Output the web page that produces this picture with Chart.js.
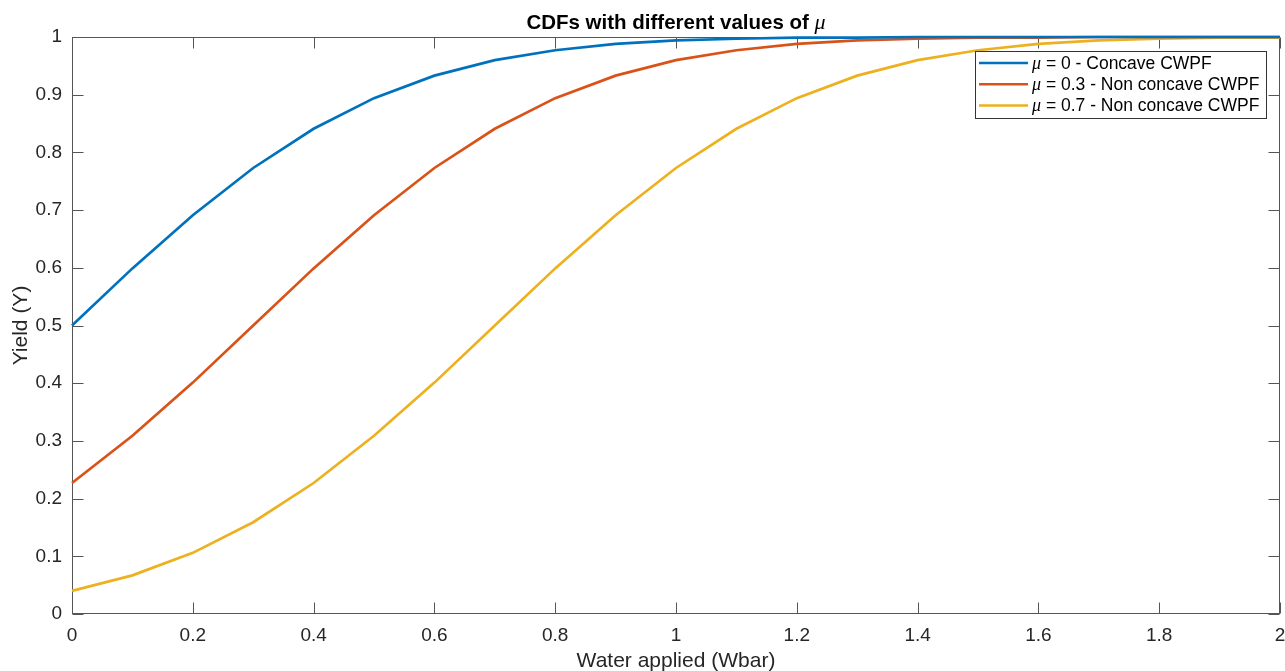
<!DOCTYPE html>
<html>
<head>
<meta charset="utf-8">
<title>CDFs with different values of mu</title>
<script src="https://cdn.jsdelivr.net/npm/chart.js"></script>
<style>
  body { margin: 0; background: #fff; }
  canvas { display: block; }
</style>
</head>
<body>
<canvas id="chart" width="1285" height="671"></canvas>
<script>
  // values
  const waterApplied = [0, 0.1, 0.2, 0.3, 0.4, 0.5, 0.6, 0.7, 0.8, 0.9, 1, 1.1, 1.2, 1.3, 1.4, 1.5, 1.6, 1.7, 1.8, 1.9, 2];
  const yieldMu0 = [0.5, 0.599, 0.691, 0.773, 0.841, 0.894, 0.933, 0.96, 0.977, 0.988, 0.994, 0.997, 0.999, 0.999, 1, 1, 1, 1, 1, 1, 1];
  const yieldMu03 = [0.227, 0.309, 0.401, 0.5, 0.599, 0.691, 0.773, 0.841, 0.894, 0.933, 0.96, 0.977, 0.988, 0.994, 0.997, 0.999, 0.999, 1, 1, 1, 1];
  const yieldMu07 = [0.04, 0.067, 0.106, 0.159, 0.227, 0.309, 0.401, 0.5, 0.599, 0.691, 0.773, 0.841, 0.894, 0.933, 0.96, 0.977, 0.988, 0.994, 0.997, 0.999, 0.999];

  const seriesNames = [" = 0 - Concave CWPF", " = 0.3 - Non concave CWPF", " = 0.7 - Non concave CWPF"];
  const seriesColors = ["#0072BD", "#D95319", "#EDB120"];

  const xTicks = [0, 0.2, 0.4, 0.6, 0.8, 1, 1.2, 1.4, 1.6, 1.8, 2];
  const xTickLabels = ["0", "0.2", "0.4", "0.6", "0.8", "1", "1.2", "1.4", "1.6", "1.8", "2"];
  const yTicks = [0, 0.1, 0.2, 0.3, 0.4, 0.5, 0.6, 0.7, 0.8, 0.9, 1];
  const yTickLabels = ["0", "0.1", "0.2", "0.3", "0.4", "0.5", "0.6", "0.7", "0.8", "0.9", "1"];

  const SANS = '"Liberation Sans", Arial, Helvetica, sans-serif';
  const MU_FONT = '"Liberation Serif", "DejaVu Serif", serif';
  const TEXT = "#262626";
  const AXIS = "#555";

  const toPoints = ys => ys.map((y, i) => ({ x: waterApplied[i], y: y }));

  // box, inward ticks, title, axis labels and legend, MATLAB style
  const matlabAxes = {
    id: "matlabAxes",
    beforeDatasetsDraw(chart) {
      const { ctx, chartArea: a, scales } = chart;
      const L = Math.round(a.left) + 0.5, R = Math.round(a.right) - 0.5;
      const T = Math.round(a.top) + 0.5, B = Math.round(a.bottom) - 0.5;
      const tl = 11;
      ctx.save();
      ctx.strokeStyle = AXIS;
      ctx.lineWidth = 1;
      ctx.strokeRect(L, T, R - L, B - T);
      ctx.beginPath();
      xTicks.forEach(v => {
        const px = Math.round(scales.x.getPixelForValue(v)) + 0.5;
        ctx.moveTo(px, B); ctx.lineTo(px, B - tl);
        ctx.moveTo(px, T); ctx.lineTo(px, T + tl);
      });
      yTicks.forEach(v => {
        const py = Math.round(scales.y.getPixelForValue(v)) + 0.5;
        ctx.moveTo(L, py); ctx.lineTo(L + tl, py);
        ctx.moveTo(R, py); ctx.lineTo(R - tl, py);
      });
      ctx.stroke();
      ctx.restore();
    },
    afterDraw(chart) {
      const { ctx, chartArea: a } = chart;
      const cx = (a.left + a.right) / 2;
      ctx.save();
      ctx.fillStyle = "#000";
      ctx.textBaseline = "alphabetic";

      // title with italic mu
      const t1 = "CDFs with different values of ";
      ctx.font = "bold 20.5px " + SANS;
      const w1 = ctx.measureText(t1).width;
      ctx.font = "italic 22px " + MU_FONT;
      const w2 = ctx.measureText("\u03bc").width;
      let x0 = cx - (w1 + w2) / 2;
      ctx.textAlign = "left";
      ctx.font = "bold 20.5px " + SANS;
      ctx.fillText(t1, x0, 29);
      ctx.font = "italic 22px " + MU_FONT;
      ctx.fillText("\u03bc", x0 + w1, 29);

      // axis titles
      ctx.fillStyle = TEXT;
      ctx.font = "21px " + SANS;
      ctx.textAlign = "center";
      ctx.fillText("Water applied (Wbar)", cx, 667);
      ctx.save();
      ctx.translate(27, (a.top + a.bottom) / 2);
      ctx.rotate(-Math.PI / 2);
      ctx.fillText("Yield (Y)", 0, 0);
      ctx.restore();

      // legend
      const lx = 975.5, ly = 51.5, lw = 291, lh = 67;
      ctx.fillStyle = "#fff";
      ctx.fillRect(lx, ly, lw, lh);
      ctx.strokeStyle = "#333";
      ctx.lineWidth = 1;
      ctx.strokeRect(lx, ly, lw, lh);
      chart.data.datasets.forEach((ds, i) => {
        const ry = 63 + i * 21.3;
        ctx.strokeStyle = ds.borderColor;
        ctx.lineWidth = 2.5;
        ctx.beginPath();
        ctx.moveTo(979, ry); ctx.lineTo(1028, ry);
        ctx.stroke();
        ctx.fillStyle = "#000";
        ctx.textAlign = "left";
        ctx.textBaseline = "middle";
        ctx.font = "italic 18px " + MU_FONT;
        ctx.fillText("\u03bc", 1032, ry + 1);
        const mw = ctx.measureText("\u03bc").width;
        ctx.font = "17.5px " + SANS;
        ctx.fillText(ds.label, 1032 + mw, ry + 1);
      });
      ctx.restore();
    }
  };

  new Chart(document.getElementById("chart"), {
    type: "line",
    data: {
      datasets: [yieldMu0, yieldMu03, yieldMu07].map((ys, i) => ({
        label: seriesNames[i],
        data: toPoints(ys),
        borderColor: seriesColors[i],
        backgroundColor: seriesColors[i],
        borderWidth: 2.7,
        pointRadius: 0,
        tension: 0,
        fill: false,
        clip: 4
      }))
    },
    options: {
      responsive: false,
      animation: false,
      devicePixelRatio: 1,
      layout: { padding: { top: 37, right: 5, left: 0, bottom: 0 } },
      plugins: { legend: { display: false }, title: { display: false }, tooltip: { enabled: false } },
      scales: {
        x: {
          type: "linear",
          min: 0,
          max: 2,
          afterBuildTicks: s => { s.ticks = xTicks.map(v => ({ value: v })); },
          afterFit: s => { s.height = 57; s.paddingLeft = 0; s.paddingRight = 0; },
          grid: { display: false, drawTicks: false },
          border: { display: false },
          ticks: {
            padding: 10,
            maxRotation: 0,
            autoSkip: false,
            color: TEXT,
            font: { family: SANS, size: 19 },
            callback: (v, i) => xTickLabels[i]
          }
        },
        y: {
          type: "linear",
          min: 0,
          max: 1,
          afterBuildTicks: s => { s.ticks = yTicks.map(v => ({ value: v })); },
          afterFit: s => { s.width = 72; s.paddingTop = 0; s.paddingBottom = 0; },
          grid: { display: false, drawTicks: false },
          border: { display: false },
          ticks: {
            padding: 10,
            autoSkip: false,
            color: TEXT,
            font: { family: SANS, size: 19 },
            callback: (v, i) => yTickLabels[i]
          }
        }
      }
    },
    plugins: [matlabAxes]
  });
</script>
</body>
</html>
